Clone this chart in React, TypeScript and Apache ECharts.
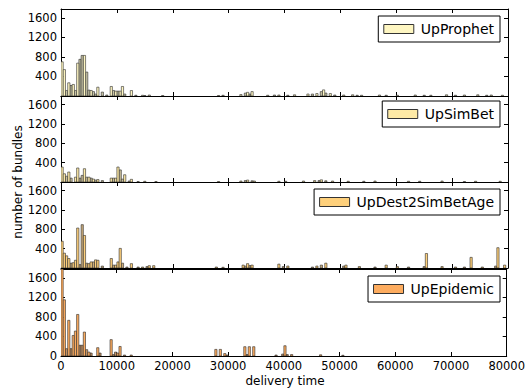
import React, { useEffect, useRef } from "react";
import * as echarts from "echarts";

// slot = 400 time units; entries are [slotIndex, count]
const SLOT = 400;
const X_TICKS = [0, 10000, 20000, 30000, 40000, 50000, 60000, 70000, 80000];
const Y_TICKS = [0, 400, 800, 1200, 1600];

const panelNames = ["UpProphet", "UpSimBet", "UpDest2SimBetAge", "UpEpidemic"];

const prophetMain = [[0,700],[1,540],[3,270],[5,236],[7,672],[10,830],[13,113],[16,180],[22,195],[24,100],[26,100],[27,195],[31,112],[36,15],[39,20],[45,10],[70,10],[80,30],[83,75],[85,90],[92,15],[97,20],[104,25],[110,40],[114,50],[117,125],[120,50],[126,20],[130,25],[134,15],[142,20],[150,15],[158,20],[165,15],[172,25],[180,20],[186,25],[192,20],[197,15]];
const prophetBase = [[2,113],[4,215],[6,113],[8,750],[9,830],[11,490],[12,120],[14,90],[15,40],[18,80],[20,20],[23,113],[25,100],[28,40],[33,15],[37,10],[72,15],[82,60],[84,40],[95,20],[101,15],[112,40],[116,90],[118,60],[122,20],[132,15],[145,15],[162,15],[176,15],[190,15]];

const simbetMain = [[0,310],[1,170],[3,206],[6,100],[7,290],[10,275],[12,100],[14,60],[16,50],[22,80],[24,80],[25,310],[28,150],[31,55],[37,15],[42,10],[70,10],[80,20],[83,40],[86,20],[97,15],[108,20],[113,30],[116,45],[121,20],[128,15],[140,20],[155,15],[170,20],[185,15],[196,15]];
const simbetBase = [[2,120],[4,80],[8,80],[9,137],[11,100],[13,80],[15,40],[18,30],[23,80],[26,250],[27,60],[30,20],[34,10],[82,30],[85,25],[100,15],[115,30],[118,25],[135,15],[160,15],[180,10]];

const dest2Main = [[0,554],[1,307],[2,252],[3,196],[5,110],[6,160],[7,827],[10,673],[12,90],[13,126],[15,168],[16,160],[22,196],[24,60],[25,126],[26,406],[31,90],[36,20],[39,48],[41,48],[69,20],[72,15],[81,60],[83,90],[85,60],[97,80],[101,40],[114,40],[118,100],[127,60],[133,30],[145,60],[150,30],[163,300],[170,30],[176,20],[183,220],[188,20],[195,420],[198,60]];
const dest2Base = [[4,100],[8,70],[9,897],[11,100],[14,126],[18,40],[23,60],[27,100],[29,20],[34,20],[38,30],[82,40],[84,50],[99,30],[112,20],[116,60],[126,40],[140,20],[155,20],[162,30],[180,20],[194,40]];

const epidemicMain = [[0,1780],[1,1150],[3,730],[5,420],[6,510],[7,850],[10,490],[12,80],[16,170],[22,335],[25,60],[26,195],[31,20],[69,135],[71,135],[73,50],[82,190],[84,190],[86,190],[100,210],[103,30],[116,25]];
const epidemicBase = [[2,150],[4,150],[8,220],[9,220],[11,130],[13,60],[17,60],[23,30],[24,80],[28,20],[74,20],[83,30],[96,20],[99,40],[101,30],[126,15]];

const mainSets = [prophetMain, simbetMain, dest2Main, epidemicMain];
const baseSets = [prophetBase, simbetBase, dest2Base, epidemicBase];

const mainColors = ["#fef6c2", "#feeaa6", "#fed07b", "#fdac5f"];
const baseColors = ["#c8c5a6", "#cbc09c", "#c8ab7c", "#c49264"];

const GRID_TOPS = [9, 96, 182, 269];
const GRID_HEIGHTS = [87, 86, 86, 87];
const LEGEND_TOPS = [16, 101, 189, 276];
const Y_MAX = 1780;

const FONT = "DejaVu Sans";

function toData(arr: number[][]) {
  return arr.map(([s, v]) => [s * SLOT, v]);
}

function makeRender(fill: string) {
  return (params: any, api: any) => {
    const x = api.value(0);
    const y = api.value(1);
    const p0 = api.coord([x, y]);
    const p1 = api.coord([x + SLOT, 0]);
    return {
      type: "rect",
      shape: { x: p0[0], y: p0[1], width: p1[0] - p0[0], height: p1[1] - p0[1] },
      style: { fill, stroke: "#2a2a2a", lineWidth: 0.6 },
    };
  };
}

export default function App() {
  const ref = useRef<HTMLDivElement>(null);
  useEffect(() => {
    if (!ref.current) return;
    const chart = echarts.init(ref.current, undefined, { renderer: "svg" });
    const grids: any[] = [];
    const xAxes: any[] = [];
    const yAxes: any[] = [];
    const series: any[] = [];
    const legends: any[] = [];
    const lineStyle = { color: "#000", width: 1 };
    for (let i = 0; i < 4; i++) {
      grids.push({ left: 61, right: 20, top: GRID_TOPS[i], height: GRID_HEIGHTS[i] });
      const common = {
        gridIndex: i,
        type: "value",
        min: X_TICKS[0],
        max: X_TICKS[X_TICKS.length - 1],
        interval: X_TICKS[1] - X_TICKS[0],
        splitLine: { show: false },
        axisLine: { show: true, onZero: false, lineStyle },
        axisTick: { show: true, inside: true, length: 4, lineStyle },
      };
      xAxes.push({
        ...common,
        position: "bottom",
        axisLabel: {
          show: i === 3,
          margin: 4,
          color: "#000",
          fontSize: 11.5,
          fontFamily: FONT,
          formatter: (v: number) => String(v),
        },
      });
      xAxes.push({ ...common, position: "top", axisLabel: { show: false } });
      const yCommon = {
        gridIndex: i,
        type: "value",
        min: 0,
        max: Y_MAX,
        interval: Y_TICKS[1] - Y_TICKS[0],
        splitLine: { show: false },
        axisLine: { show: true, onZero: false, lineStyle },
        axisTick: { show: true, inside: true, length: 4, lineStyle },
      };
      yAxes.push({
        ...yCommon,
        position: "left",
        axisLabel: {
          show: true,
          margin: 4,
          color: "#000",
          fontSize: 11.5,
          fontFamily: FONT,
          showMaxLabel: false,
          formatter: (v: number) =>
            Y_TICKS.indexOf(v) >= 0 && (v > 0 || i === 3) ? String(v) : "",
        },
      });
      yAxes.push({ ...yCommon, position: "right", axisLabel: { show: false } });

      series.push({
        type: "custom",
        name: panelNames[i] + " base",
        xAxisIndex: i * 2,
        yAxisIndex: i * 2,
        clip: true,
        itemStyle: { color: baseColors[i] },
        renderItem: makeRender(baseColors[i]),
        data: toData(baseSets[i]),
      });
      series.push({
        type: "custom",
        name: panelNames[i],
        xAxisIndex: i * 2,
        yAxisIndex: i * 2,
        clip: true,
        itemStyle: { color: mainColors[i] },
        renderItem: makeRender(mainColors[i]),
        data: toData(mainSets[i]),
      });
      legends.push({
        data: [
          {
            name: panelNames[i],
            icon: "rect",
            itemStyle: { color: mainColors[i], borderColor: "#333", borderWidth: 1 },
          },
        ],
        right: 28,
        top: LEGEND_TOPS[i],
        orient: "horizontal",
        itemWidth: 30,
        itemHeight: 9,
        padding: [6, 6, 6, 5],
        backgroundColor: "#fff",
        borderColor: "#000",
        borderWidth: 1,
        borderRadius: 0,
        selectedMode: false,
        textStyle: { color: "#000", fontSize: 14, fontFamily: FONT, padding: [0, 0, 0, 2] },
      });
    }
    chart.setOption({
      animation: false,
      backgroundColor: "#fff",
      grid: grids,
      xAxis: xAxes,
      yAxis: yAxes,
      legend: legends,
      series,
      graphic: [
        {
          type: "text",
          x: 18,
          y: 182,
          rotation: Math.PI / 2,
          style: {
            text: "number of bundles",
            fill: "#000",
            fontSize: 12,
            fontFamily: FONT,
            align: "center",
            verticalAlign: "middle",
          },
        },
        {
          type: "text",
          x: 285,
          y: 381,
          style: {
            text: "delivery time",
            fill: "#000",
            fontSize: 12,
            fontFamily: FONT,
            align: "center",
            verticalAlign: "middle",
          },
        },
      ],
    });
    return () => chart.dispose();
  }, []);
  return (
    <div
      ref={ref}
      style={{ position: "fixed", left: 0, top: 0, width: 528, height: 389 }}
    />
  );
}
